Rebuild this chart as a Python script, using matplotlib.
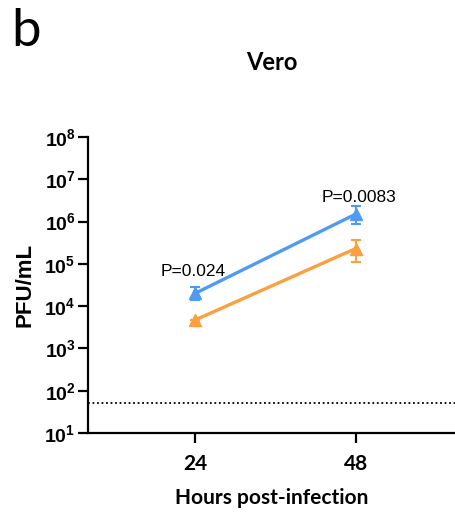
import numpy as np
import matplotlib.pyplot as plt

# growth curve data (PFU/mL)
hours = [24, 48]
blue_mean = [2.0e4, 1.5e6]
blue_lo = [1.4e4, 8.7e5]
blue_hi = [2.9e4, 2.3e6]
orange_mean = [4.7e3, 2.3e5]
orange_lo = [4.7e3, 1.1e5]
orange_hi = [4.7e3, 3.6e5]
detection_limit = 50
p_labels = ["P=0.024", "P=0.0083"]

blue = "#4f9bf3"
orange = "#fb9f3f"

fig = plt.figure(figsize=(4.56, 5.12), dpi=100)
ax = fig.add_axes([88/456, 1-433/512, (456-88)/456, (433-137)/512])

def draw(mean, lo, hi, color):
    mean = np.array(mean)
    yerr = [mean - np.array(lo), np.array(hi) - mean]
    ax.errorbar(hours, mean, yerr=yerr, color=color, lw=2.4, marker="^",
                ms=9, capsize=3.5, elinewidth=1.5, capthick=1.5, zorder=3)

draw(orange_mean, orange_lo, orange_hi, orange)
draw(blue_mean, blue_lo, blue_hi, blue)

ax.axhline(detection_limit, color="black", lw=1.3, ls=(0, (1, 1.5)))

ax.set_yscale("log")
ax.set_ylim(10, 1e8)
ax.set_xlim(8, 63)
ax.set_xticks(hours)
ax.set_xticklabels([str(h) for h in hours], fontfamily="Lato", fontweight="bold", fontsize=15)
ax.set_yticks([10**k for k in range(1, 9)])
ax.yaxis.set_minor_locator(plt.NullLocator())
for lab in ax.get_yticklabels():
    lab.set_fontfamily("Liberation Sans")
    lab.set_fontweight("bold")
    lab.set_fontsize(14)

for side in ["top", "right"]:
    ax.spines[side].set_visible(False)
for side in ["left", "bottom"]:
    ax.spines[side].set_linewidth(1.6)
ax.tick_params(width=1.6, length=7, direction="out")
ax.tick_params(axis="x", pad=8)
ax.tick_params(axis="y", pad=2)

ax.set_ylabel("PFU/mL", fontfamily="Liberation Sans", fontweight="bold", fontsize=16, labelpad=6)
ax.set_xlabel("Hours post-infection", fontfamily="Lato", fontweight="bold", fontsize=15, labelpad=10)
ax.set_title("Vero", fontfamily="Lato", fontweight="bold", fontsize=17, pad=48)

# p-value annotations above the blue points
ax.text(hours[0] - 0.3, blue_hi[0] * 1.5, p_labels[0], ha="center", va="bottom",
        fontfamily="Liberation Sans", fontsize=12.5)
ax.text(hours[1] + 0.5, blue_hi[1] * 1.05, p_labels[1], ha="center", va="bottom",
        fontfamily="Liberation Sans", fontsize=12.5)

fig.text(0.025, 0.985, "b", fontfamily="Lato", fontsize=38, va="top", ha="left")

fig.savefig("out.png", dpi=100)
